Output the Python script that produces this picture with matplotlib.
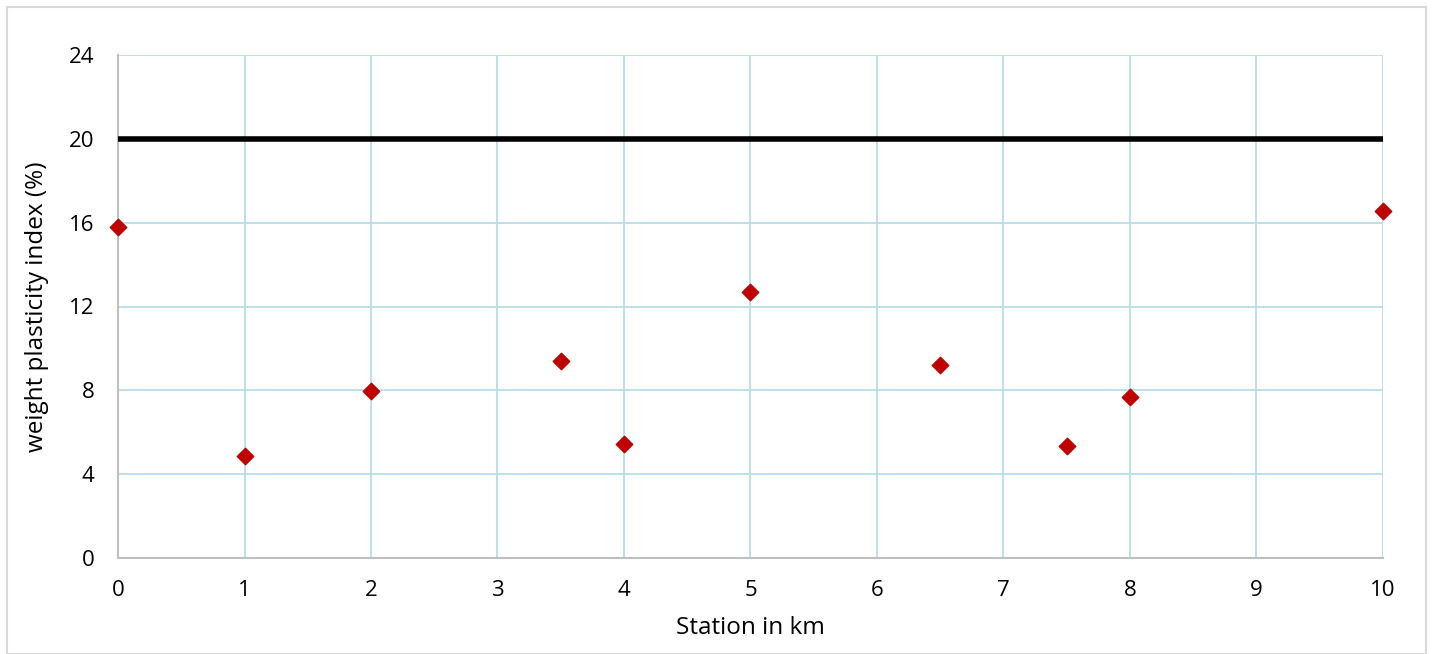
import matplotlib
matplotlib.use("Agg")
import matplotlib.pyplot as plt
from matplotlib.patches import Rectangle

stations = [0, 1, 2, 3.5, 4, 5, 6.5, 7.5, 8, 10]
plasticity = [15.8, 4.87, 7.97, 9.4, 5.44, 12.69, 9.21, 5.34, 7.68, 16.56]
limit_x = [0, 10]
limit_y = [20, 20]
x_ticks = list(range(0, 11))
y_ticks = [0, 4, 8, 12, 16, 20, 24]

plt.rcParams['font.family'] = ['Open Sans', 'DejaVu Sans']

fig = plt.figure(figsize=(14.32, 6.54), dpi=100)
fig.patches.append(Rectangle((7/1432, 0.0), (1426-7)/1432, 1 - 7/654,
                             transform=fig.transFigure, fill=False,
                             edgecolor='#d9d9d9', linewidth=1.5))
ax = fig.add_axes([118/1432, 1-558/654, (1383-118)/1432, (558-55)/654])

ax.set_xlim(0, 10)
ax.set_ylim(0, 24)
ax.set_xticks(x_ticks)
ax.set_yticks(y_ticks)
ax.grid(True, color='#b7dde8', linewidth=1.3)
ax.set_axisbelow(True)
for s in ['top', 'right']:
    ax.spines[s].set_visible(False)
for s in ['left', 'bottom']:
    ax.spines[s].set_color('#bfbfbf')
    ax.spines[s].set_linewidth(1.5)
ax.tick_params(axis='x', length=0, labelsize=16, pad=16)
ax.tick_params(axis='y', length=0, labelsize=16, pad=17)

ax.plot(limit_x, limit_y, color='black', linewidth=4, solid_capstyle='round', zorder=3)
ax.scatter(stations, plasticity, marker='D', s=70, color='#c00000', zorder=4, clip_on=False)

ax.set_xlabel('Station in km', fontsize=17.5, labelpad=11)
ax.set_ylabel('weight plasticity index (%)', fontsize=17.5, labelpad=14)

fig.savefig('out.png', dpi=100)
